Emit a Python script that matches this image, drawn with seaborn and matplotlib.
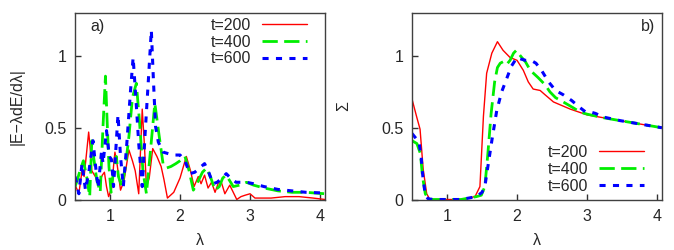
import matplotlib
matplotlib.use("Agg")
import matplotlib.pyplot as plt
import seaborn as sns
import pandas as pd

# ---------------- data ----------------
labels = ["t=200", "t=400", "t=600"]

# panel a)
red_a_x = [0.50, 0.53, 0.555, 0.60, 0.63, 0.66, 0.695, 0.715, 0.74, 0.79, 0.84, 0.89, 0.92, 0.95, 0.98,
           1.03, 1.05, 1.07, 1.10, 1.15, 1.20, 1.27, 1.32, 1.36, 1.41, 1.46, 1.49, 1.52, 1.56, 1.61,
           1.67, 1.73, 1.77, 1.82, 1.91, 2.00, 2.09, 2.15, 2.20, 2.26, 2.30, 2.35, 2.40, 2.45, 2.50,
           2.55, 2.59, 2.64, 2.71, 2.76, 2.81, 2.87, 2.93, 3.00, 3.07, 3.15, 3.30, 3.50, 3.70, 3.90, 4.07]
red_a_y = [0.10, 0.07, 0.04, 0.20, 0.16, 0.30, 0.47, 0.37, 0.20, 0.16, 0.11, 0.17, 0.19, 0.09, 0.02,
           0.09, 0.23, 0.33, 0.25, 0.065, 0.13, 0.345, 0.27, 0.20, 0.04, 0.63, 0.39, 0.09, 0.15, 0.355,
           0.30, 0.23, 0.14, 0.01, 0.05, 0.15, 0.30, 0.20, 0.09, 0.16, 0.11, 0.17, 0.08, 0.12, 0.05,
           0.12, 0.12, 0.04, 0.10, 0.05, 0.00, 0.02, 0.03, 0.04, 0.01, 0.01, 0.01, 0.02, 0.02, 0.01, 0.00]

green_a_x = [0.50, 0.53, 0.57, 0.62, 0.67, 0.71, 0.74, 0.77, 0.81, 0.86, 0.90, 0.935, 0.96, 0.985, 1.015,
             1.05, 1.09, 1.12, 1.17, 1.22, 1.27, 1.32, 1.376, 1.42, 1.47, 1.52, 1.57, 1.64, 1.70, 1.76,
             1.81, 1.87, 1.94, 2.00, 2.07, 2.13, 2.19, 2.25, 2.32, 2.38, 2.44, 2.50, 2.56, 2.61, 2.66,
             2.71, 2.76, 2.85, 2.95, 3.05, 3.20, 3.40, 3.60, 3.80, 4.07]
green_a_y = [0.09, 0.13, 0.20, 0.27, 0.15, 0.02, 0.41, 0.28, 0.14, 0.05, 0.51, 0.86, 0.53, 0.23, 0.05,
             0.20, 0.30, 0.16, 0.09, 0.23, 0.44, 0.71, 0.81, 0.55, 0.20, 0.04, 0.30, 0.67, 0.45, 0.24,
             0.22, 0.23, 0.25, 0.27, 0.30, 0.20, 0.065, 0.12, 0.19, 0.22, 0.15, 0.065, 0.09, 0.15, 0.17,
             0.13, 0.09, 0.10, 0.12, 0.10, 0.08, 0.06, 0.05, 0.05, 0.04]

blue_a_x = [0.50, 0.52, 0.555, 0.60, 0.65, 0.70, 0.757, 0.79, 0.83, 0.88, 0.90, 0.95, 0.99, 1.02, 1.05,
            1.114, 1.15, 1.19, 1.24, 1.29, 1.33, 1.37, 1.41, 1.46, 1.50, 1.55, 1.59, 1.62, 1.65, 1.69,
            1.76, 1.83, 1.90, 2.00, 2.07, 2.14, 2.21, 2.28, 2.35, 2.41, 2.47, 2.53, 2.60, 2.66, 2.72,
            2.80, 2.95, 3.05, 3.20, 3.40, 3.60, 3.80, 4.07]
blue_a_y = [0.16, 0.12, 0.04, 0.25, 0.065, 0.20, 0.41, 0.25, 0.08, 0.34, 0.25, 0.48, 0.30, 0.28, 0.09,
            0.59, 0.30, 0.09, 0.39, 0.74, 0.99, 0.70, 0.39, 0.09, 0.45, 0.85, 1.18, 0.83, 0.51, 0.40,
            0.33, 0.32, 0.31, 0.31, 0.27, 0.18, 0.19, 0.22, 0.25, 0.19, 0.11, 0.12, 0.15, 0.18, 0.15,
            0.12, 0.12, 0.11, 0.09, 0.07, 0.06, 0.05, 0.045]

# panel b)
red_b_x = [0.50, 0.57, 0.615, 0.66, 0.71, 0.75, 0.80, 1.00, 1.20, 1.40, 1.47, 1.52, 1.566, 1.64, 1.72,
           1.80, 1.90, 2.00, 2.09, 2.16, 2.23, 2.33, 2.40, 2.52, 2.76, 3.00, 3.23, 3.47, 3.71, 4.07]
red_b_y = [0.70, 0.57, 0.49, 0.21, 0.04, 0.005, 0.00, 0.00, 0.00, 0.02, 0.09, 0.58, 0.88, 1.02, 1.10,
           1.04, 0.99, 0.97, 0.90, 0.82, 0.77, 0.76, 0.73, 0.68, 0.63, 0.59, 0.57, 0.55, 0.53, 0.50]

green_b_x = [0.50, 0.57, 0.62, 0.65, 0.69, 0.73, 0.80, 1.00, 1.20, 1.42, 1.49, 1.54, 1.58, 1.63, 1.68,
             1.72, 1.76, 1.80, 1.85, 1.90, 1.95, 1.99, 2.05, 2.12, 2.19, 2.30, 2.40, 2.47, 2.55, 2.66,
             2.80, 2.90, 3.00, 3.23, 3.47, 3.71, 4.07]
green_b_y = [0.41, 0.39, 0.32, 0.16, 0.04, 0.005, 0.00, 0.00, 0.00, 0.02, 0.03, 0.09, 0.30, 0.60, 0.82,
             0.92, 0.95, 0.96, 0.94, 0.97, 1.02, 1.04, 1.00, 0.96, 0.90, 0.85, 0.80, 0.75, 0.71, 0.68,
             0.64, 0.61, 0.595, 0.57, 0.55, 0.53, 0.50]

blue_b_x = [0.50, 0.55, 0.60, 0.63, 0.655, 0.69, 0.73, 0.80, 1.00, 1.20, 1.42, 1.50, 1.54, 1.59, 1.64,
            1.71, 1.78, 1.85, 1.92, 2.00, 2.05, 2.12, 2.20, 2.27, 2.35, 2.45, 2.55, 2.66, 2.78, 2.90,
            2.98, 3.05, 3.12, 3.23, 3.47, 3.71, 4.07]
blue_b_y = [0.46, 0.43, 0.40, 0.30, 0.16, 0.03, 0.005, 0.00, 0.00, 0.00, 0.02, 0.05, 0.09, 0.25, 0.41,
            0.62, 0.75, 0.84, 0.93, 0.99, 0.98, 0.97, 0.97, 0.95, 0.90, 0.82, 0.76, 0.73, 0.69, 0.64,
            0.61, 0.61, 0.60, 0.575, 0.55, 0.53, 0.50]

x_ticks = [1, 2, 3, 4]
y_ticks = [0, 0.5, 1]
y_tick_labels = ["0", "0.5", "1"]

# ---------------- style ----------------
sns.set_theme(style="white")
plt.rcParams["font.family"] = ["Liberation Sans", "DejaVu Sans"]
FS = 11.5
plt.rcParams["font.size"] = FS

colors = ["#ff0000", "#00ee00", "#0000ff"]
widths = [1.0, 2.0, 2.2]
dash_styles = [None, (5.5, 2.3), (2.0, 2.4)]

fig = plt.figure(figsize=(6.74, 2.5), dpi=100)
ax_a = fig.add_axes([75 / 674, 1 - 199.5 / 250, 250 / 674, 186.5 / 250])
ax_b = fig.add_axes([412 / 674, 1 - 199.5 / 250, 250 / 674, 186.5 / 250])


def draw(ax, series):
    for (xs, ys), lab, col, lw, ds in zip(series, labels, colors, widths, dash_styles):
        df = pd.DataFrame({"x": xs, "y": ys})
        sns.lineplot(data=df, x="x", y="y", ax=ax, color=col, linewidth=lw,
                     estimator=None, sort=False, label=lab)
        line = ax.lines[-1]
        if ds is not None:
            line.set_dashes(ds)
    ax.set_xlim(0.5, 4.07)
    ax.set_ylim(0, 1.3)
    ax.set_xticks(x_ticks)
    ax.set_xticklabels([str(t) for t in x_ticks])
    ax.set_yticks(y_ticks)
    ax.set_yticklabels(y_tick_labels)
    ax.tick_params(axis="both", direction="in", length=4, width=1, color="#333333",
                   labelsize=FS, bottom=True, left=True, top=False, right=False)
    ax.tick_params(axis="x", pad=7)
    ax.tick_params(axis="y", pad=6)
    for sp in ax.spines.values():
        sp.set_color("#404040")
        sp.set_linewidth(1.0)
    ax.set_xlabel("λ", fontsize=FS, labelpad=6)


draw(ax_a, [(red_a_x, red_a_y), (green_a_x, green_a_y), (blue_a_x, blue_a_y)])
draw(ax_b, [(red_b_x, red_b_y), (green_b_x, green_b_y), (blue_b_x, blue_b_y)])

ax_a.set_ylabel("|E−λdE/dλ|", fontsize=FS, labelpad=14)
ax_b.set_ylabel("Σ", fontsize=FS, labelpad=22)

ax_a.text(0.06, 0.925, "a)", transform=ax_a.transAxes, fontsize=FS, ha="left", va="center")
ax_b.text(0.972, 0.925, "b)", transform=ax_b.transAxes, fontsize=FS, ha="right", va="center")

leg_kw = dict(frameon=False, markerfirst=False, handlelength=2.8, handletextpad=0.7,
              labelspacing=0.12, borderpad=0, borderaxespad=0, fontsize=FS)
ax_a.legend(loc="upper right", bbox_to_anchor=(0.928, 0.975), **leg_kw)
ax_b.legend(loc="lower right", bbox_to_anchor=(0.928, 0.03), **leg_kw)

fig.savefig("out.png", dpi=100)
